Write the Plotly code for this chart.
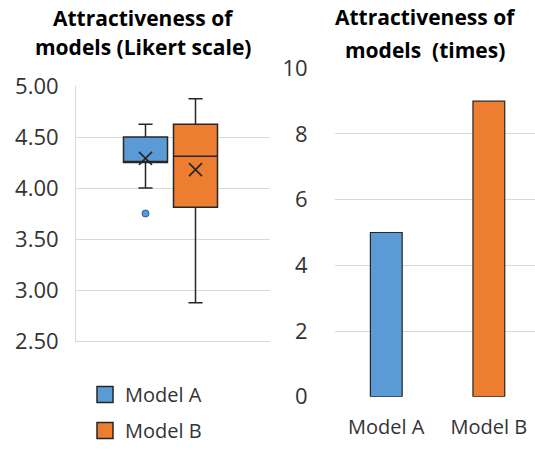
import plotly.graph_objects as go

# ---- data ----
models = ["Model A", "Model B"]
box_q1 = [4.25, 3.8125]
box_median = [4.25, 4.3125]
box_q3 = [4.50, 4.625]
box_lower = [4.00, 2.875]
box_upper = [4.625, 4.875]
box_mean = [4.29, 4.18]
outlier_model = ["Model A"]
outlier_value = [3.75]
times_values = [5, 9]

colors = ["#5B9BD5", "#ED7D31"]
edge = "#262626"
grid = "#D9D9D9"
FONT = "Open Sans"
TXT = "#333333"
W, H = 535, 450

def px_x(a, b):
    return [a / W, b / W]

def px_y(top, bottom):
    return [(H - bottom) / H, (H - top) / H]

fig = go.Figure()
box_pos = [0, 1]
for i, m in enumerate(models):
    fig.add_trace(go.Box(
        x=[box_pos[i]], q1=[box_q1[i]], median=[box_median[i]], q3=[box_q3[i]],
        lowerfence=[box_lower[i]], upperfence=[box_upper[i]],
        name=m, width=0.88, whiskerwidth=0.32,
        fillcolor=colors[i], line=dict(color=edge, width=1.5),
        boxpoints=False, xaxis="x", yaxis="y", showlegend=False, hoverinfo="skip"))
    # legend entry
    fig.add_trace(go.Scatter(
        x=[None], y=[None], mode="markers", name=m,
        marker=dict(symbol="square", size=20, color=colors[i], line=dict(color=edge, width=1.5)),
        xaxis="x", yaxis="y", legend="legend" if i == 0 else "legend2"))
# means
fig.add_trace(go.Scatter(
    x=box_pos, y=box_mean, mode="markers", showlegend=False,
    marker=dict(symbol="x-thin", size=13, line=dict(color=edge, width=1.6)),
    xaxis="x", yaxis="y"))
# outliers
fig.add_trace(go.Scatter(
    x=[box_pos[models.index(m)] for m in outlier_model], y=outlier_value,
    mode="markers", showlegend=False,
    marker=dict(symbol="circle", size=7, color=colors[0], line=dict(color="#2F5597", width=1)),
    xaxis="x", yaxis="y"))

# bar chart
fig.add_trace(go.Bar(
    x=models, y=times_values, marker=dict(color=colors, line=dict(color=edge, width=1.2)),
    width=0.31, showlegend=False, xaxis="x2", yaxis="y2"))

def title_line(text, xc, yc):
    return dict(text="<b>%s</b>" % text, x=xc / W, y=(H - yc) / H,
                xref="paper", yref="paper", xanchor="center", yanchor="middle",
                showarrow=False, font=dict(size=21, color="black", family=FONT))

fig.update_layout(
    width=W, height=H, margin=dict(l=0, r=0, t=0, b=0),
    paper_bgcolor="white", plot_bgcolor="white",
    font=dict(family=FONT, color=TXT),
    xaxis=dict(domain=px_x(76, 270), range=[-1.39, 2.49], showticklabels=False, anchor="y",
               showgrid=False, zeroline=False, showline=True, linecolor=grid, linewidth=1,
               automargin=False),
    yaxis=dict(domain=px_y(86, 341), range=[2.5, 5.0], dtick=0.5, tickformat=".2f", anchor="x",
               showgrid=True, gridcolor=grid, gridwidth=1, zeroline=False,
               showline=True, linecolor=grid, linewidth=1, automargin=False,
               ticks="outside", ticklen=12, tickcolor="rgba(0,0,0,0)",
               tickfont=dict(size=22, color=TXT, family=FONT)),
    xaxis2=dict(domain=px_x(335, 535), range=[-0.5, 1.45], type="category", anchor="y2",
                showgrid=False, zeroline=False, showline=False, automargin=False,
                ticks="outside", ticklen=12, tickcolor="rgba(0,0,0,0)",
                tickfont=dict(size=20, color=TXT, family=FONT)),
    yaxis2=dict(domain=px_y(68.3, 396.7), range=[0, 10], dtick=2, anchor="x2",
                showgrid=True, gridcolor=grid, gridwidth=1, zeroline=False, showline=False,
                automargin=False,
                ticks="outside", ticklen=22, tickcolor="rgba(0,0,0,0)",
                tickfont=dict(size=22, color=TXT, family=FONT)),
    legend=dict(x=85 / W, y=(H - 414) / H, xanchor="left", yanchor="bottom", itemsizing="trace",
                font=dict(size=20, color=TXT), bgcolor="rgba(0,0,0,0)"),
    legend2=dict(x=85 / W, y=0, xanchor="left", yanchor="bottom", itemsizing="trace",
                 font=dict(size=20, color=TXT), bgcolor="rgba(0,0,0,0)"),
    annotations=[
        title_line("Attractiveness of", 143, 18),
        title_line("models (Likert scale)", 143, 47),
        title_line("Attractiveness of", 425, 17),
        title_line("models  (times)", 425, 50),
    ],
)
fig.write_html("out.html", config={"displayModeBar": False},
               post_script="document.body.style.margin='0';")
